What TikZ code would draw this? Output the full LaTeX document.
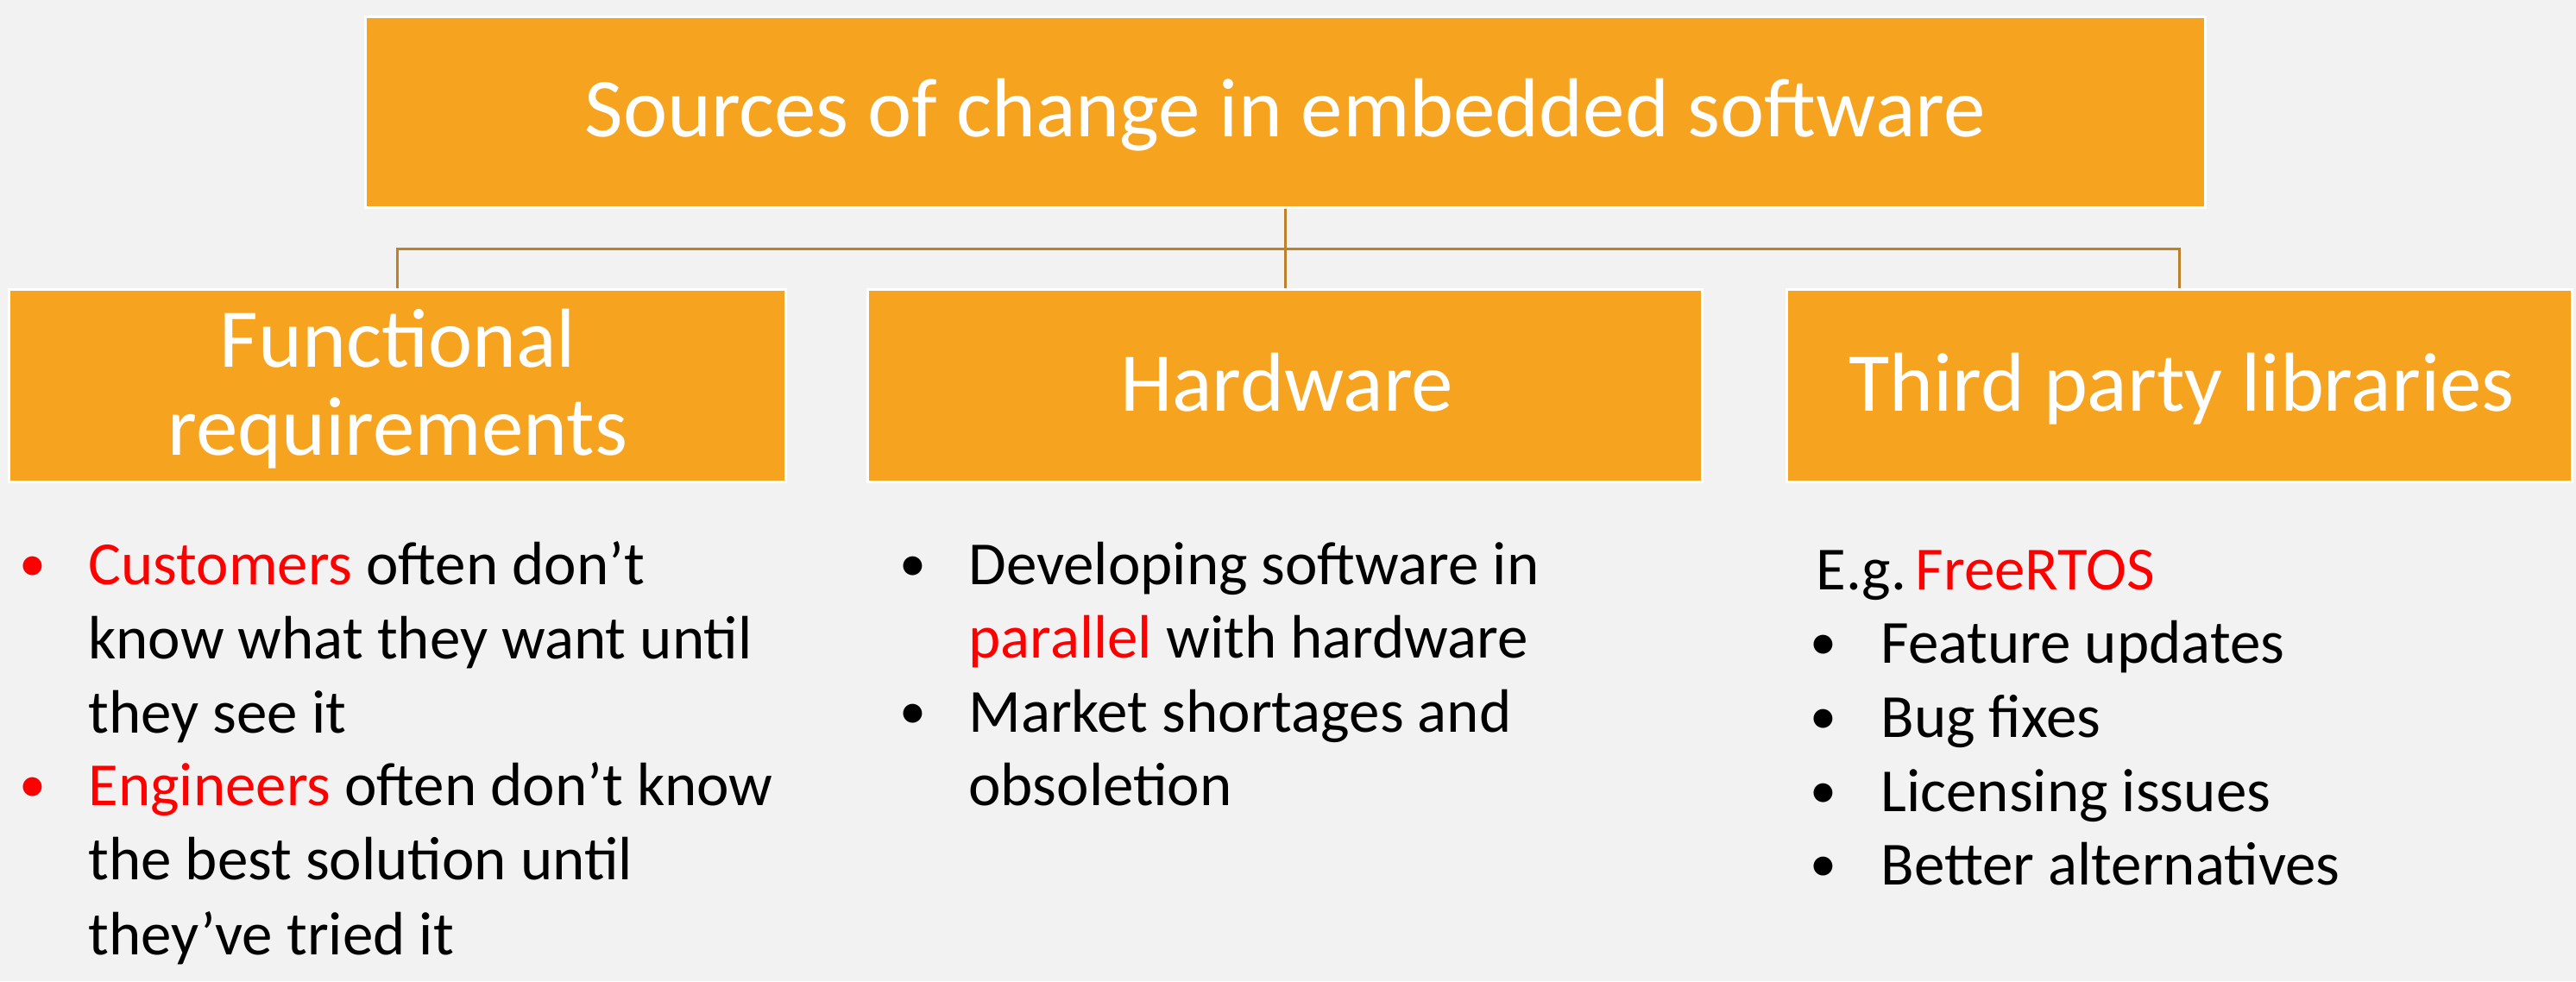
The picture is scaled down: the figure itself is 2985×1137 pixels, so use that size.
\documentclass[tikz,border=0pt]{standalone}
\usepackage{fontspec}
\setmainfont{Carlito}
\definecolor{bg}{HTML}{F2F2F2}
\definecolor{boxor}{HTML}{F6A420}
\definecolor{conn}{RGB}{190,128,40}
\definecolor{hl}{HTML}{FF0000}
\begin{document}
\begin{tikzpicture}[x=0.5pt,y=-0.5pt,
  box/.style={draw=white, line width=1.5pt, fill=boxor, inner sep=0pt, minimum height=111.5pt},
  head/.style={anchor=base, text=white, font=\fontsize{48.5}{48.5}\selectfont, inner sep=0pt},
  body/.style={anchor=base west, font=\fontsize{35.5}{35.5}\selectfont, inner sep=0pt},
  bul/.style={anchor=base, font=\fontsize{31}{31}\selectfont, inner sep=0pt},
  conline/.style={draw=conn, line width=1.5pt}]
\fill[bg] (0,0) rectangle (2985,1137);
\useasboundingbox (0,0) rectangle (2985,1137);
\node[box, minimum width=1066pt, minimum height=110.5pt] (top) at (1489,129.5) {};
\node[box, minimum width=450pt] (fr) at (460,446.5) {};
\node[box, minimum width=483.5pt] (hw) at (1489,446.5) {};
\node[box, minimum width=455pt] (tp) at (2525,446.5) {};
\coordinate (bus) at (1489,288);
\draw[conline] (top.south) -- (hw.north);
\draw[conline] (bus) -| (fr.north);
\draw[conline] (bus) -| (tp.north);
\node[head] (t0) at (1489,158) {Sources of change in embedded software};
\node[head] (t1a) at (461,425) {Functional};
\node[head] (t1b) at (461,527) {requirements};
\node[head] (t2) at (1491,476) {Hardware};
\node[head] (t3) at (2528,476) {Third party libraries};
% column 1
\node[bul, text=hl] (ba1) at (38,673) {•};
\node[bul, text=hl] (ba2) at (38,929) {•};
\node[body] (a1) at (102,677) {\textcolor{hl}{Customers} often don’t};
\node[body] (a2) at (102,763) {know what they want until};
\node[body] (a3) at (102,849) {they see it};
\node[body] (a4) at (102,933) {\textcolor{hl}{Engineers} often don’t know};
\node[body] (a5) at (102,1019) {the best solution until};
\node[body] (a6) at (102,1106) {they’ve tried it};
% column 2
\node[bul] (bb1) at (1058,673) {•};
\node[bul] (bb2) at (1058,844) {•};
\node[body] (b1) at (1122,677) {Developing software in};
\node[body] (b2) at (1122,762) {\textcolor{hl}{parallel} with hardware};
\node[body] (b3) at (1122,848) {Market shortages and};
\node[body] (b4) at (1122,933) {obsoletion};
% column 3
\node[body] (c0) at (2104,683) {E.g.\hspace{0.15em}\textcolor{hl}{FreeRTOS}};
\node[bul] (bc1) at (2113,764) {•};
\node[bul] (bc2) at (2113,850) {•};
\node[bul] (bc3) at (2113,936) {•};
\node[bul] (bc4) at (2113,1021) {•};
\node[body] (c1) at (2179,768) {Feature updates};
\node[body] (c2) at (2179,854) {Bug fixes};
\node[body] (c3) at (2179,940) {Licensing issues};
\node[body] (c4) at (2179,1025) {Better alternatives};
\end{tikzpicture}
\end{document}
